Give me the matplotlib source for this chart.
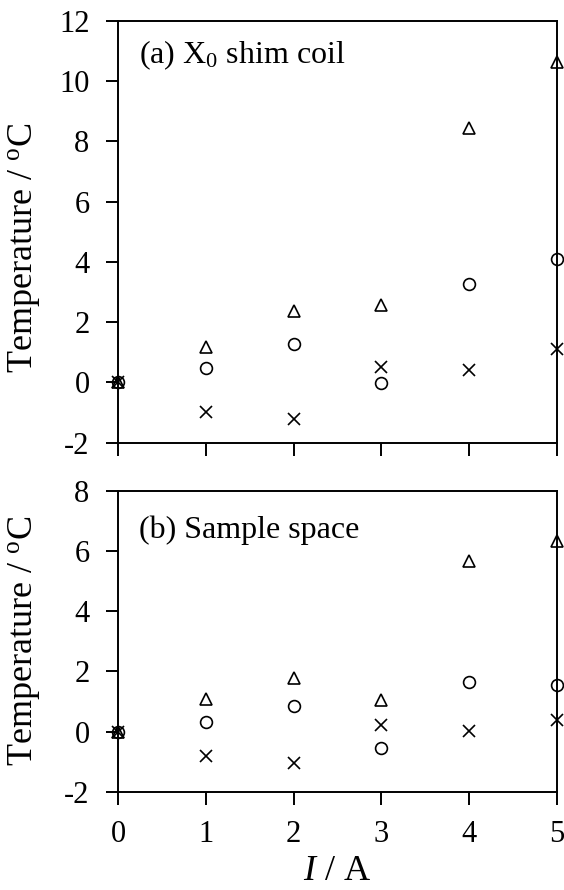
import numpy as np
import matplotlib.pyplot as plt

plt.rcParams['font.family'] = ['Liberation Serif', 'DejaVu Serif']
plt.rcParams['mathtext.fontset'] = 'custom'
plt.rcParams['mathtext.rm'] = 'Liberation Serif'
plt.rcParams['mathtext.it'] = 'Liberation Serif:italic'
plt.rcParams['axes.unicode_minus'] = False

current = [0, 1, 2, 3, 4, 5]

# (a) X0 shim coil
shim_tri = [0, 1.18, 2.37, 2.57, 8.43, 10.64]
shim_circ = [0, 0.47, 1.26, -0.01, 3.25, 4.09]
shim_cross = [0, -0.97, -1.22, 0.50, 0.41, 1.10]

# (b) sample space
samp_tri = [0, 1.09, 1.77, 1.06, 5.66, 6.33]
samp_circ = [0, 0.33, 0.84, -0.54, 1.64, 1.55]
samp_cross = [0, -0.80, -1.05, 0.22, 0.01, 0.40]

fig = plt.figure(figsize=(5.64, 8.90), dpi=100)
ax1 = fig.add_axes([0.2092, 0.5026, 0.7784, 0.4742])
ax2 = fig.add_axes([0.2092, 0.1104, 0.7784, 0.3382])

mk = dict(linestyle='none', color='black', markerfacecolor='none',
          markersize=8.5, markeredgewidth=1.2, clip_on=False, zorder=5)


def draw(ax, tri, circ, cross, ylim, yticks, label, ty, ly):
    ax.plot(current, tri, marker='^', **mk)
    ax.plot(current, circ, marker='o', **mk)
    ax.plot(current, cross, marker='x', **mk)
    ax.set_xlim(0, 5)
    ax.set_ylim(*ylim)
    ax.set_yticks(yticks)
    ax.set_xticks(current)
    for s in ax.spines.values():
        s.set_linewidth(1.4)
    ax.tick_params(direction='out', length=9, width=1.4, labelsize=22, pad=11.5,
                   right=False, top=False)
    ax.set_ylabel('Temperature / $^{\\mathrm{o}}$C', fontsize=26)
    ax.yaxis.set_label_coords(-0.172, ly)
    ax.text(0.048, ty, label, transform=ax.transAxes, fontsize=23,
            va='center', ha='left')


draw(ax1, shim_tri, shim_circ, shim_cross, (-2, 12), range(-2, 13, 2),
     '(a) X$_\\mathrm{0}$ shim coil', 0.918, 0.463)
draw(ax2, samp_tri, samp_circ, samp_cross, (-2, 8), range(-2, 9, 2),
     '(b) Sample space', 0.868, 0.5)

ax1.set_xticklabels([])
ax2.set_xlabel('$I$ / A', fontsize=26, labelpad=4)

fig.savefig('out.png', dpi=100)
